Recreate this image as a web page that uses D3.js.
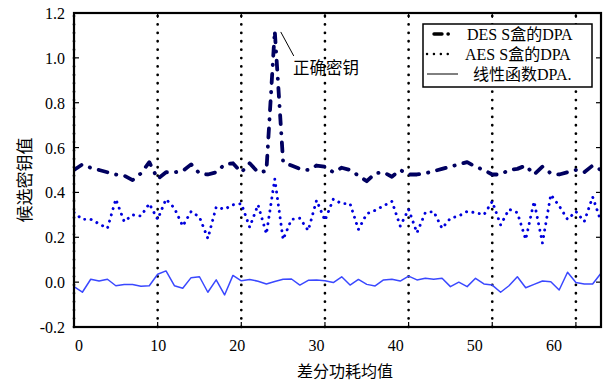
<!DOCTYPE html>
<html>
<head>
<meta charset="utf-8">
<script src="https://cdn.jsdelivr.net/npm/d3@7"></script>
<style>
  html, body { margin: 0; padding: 0; background: #fff; }
  svg { display: block; }
</style>
</head>
<body>
<div id="chart"></div>
<script>
/*------------------- Data --------------------*/
// 猜测密钥 0..63
const guesses = d3.range(0, 64);

const desDPA = [
    0.50, 0.525, 0.51, 0.50, 0.49, 0.48, 0.475, 0.455, 0.485, 0.535,
    0.46, 0.49, 0.49, 0.495, 0.525, 0.485, 0.48, 0.49, 0.525, 0.53,
    0.49, 0.53, 0.49, 0.495, 1.12, 0.535, 0.52, 0.505, 0.50, 0.52,
    0.515, 0.49, 0.51, 0.50, 0.475, 0.45, 0.485, 0.49, 0.47, 0.50,
    0.48, 0.48, 0.485, 0.495, 0.505, 0.515, 0.525, 0.535, 0.515, 0.50,
    0.48, 0.48, 0.50, 0.505, 0.52, 0.48, 0.515, 0.485, 0.48, 0.49,
    0.50, 0.49, 0.52, 0.50
];

const aesDPA = [
    0.31, 0.28, 0.28, 0.26, 0.24, 0.37, 0.27, 0.30, 0.295, 0.35,
    0.28, 0.37, 0.33, 0.25, 0.315, 0.29, 0.195, 0.335, 0.325, 0.345,
    0.35, 0.245, 0.345, 0.215, 0.46, 0.19, 0.28, 0.285, 0.23, 0.365,
    0.275, 0.37, 0.35, 0.35, 0.235, 0.305, 0.32, 0.34, 0.36, 0.25,
    0.325, 0.22, 0.31, 0.315, 0.24, 0.285, 0.295, 0.315, 0.31, 0.30,
    0.36, 0.255, 0.325, 0.31, 0.19, 0.36, 0.175, 0.39, 0.34, 0.28,
    0.315, 0.27, 0.38, 0.27
];

const linDPA = [
    -0.02, -0.045, 0.013, 0.005, 0.013, -0.016, -0.011, -0.011, -0.018, -0.016,
    0.035, 0.05, -0.016, -0.027, 0.02, 0.024, -0.045, 0.01, -0.057, 0.03,
    0.006, 0.012, 0.004, -0.008, 0.003, 0.013, 0.014, -0.013, 0.008, 0.01,
    0.006, -0.002, 0.024, -0.013, 0.012, -0.01, -0.017, 0.01, 0.013, 0.005,
    0.027, 0.01, 0.017, 0.013, 0.017, -0.02, 0.0, -0.02, 0.017, -0.008,
    -0.013, -0.045, -0.016, 0.024, -0.025, -0.01, 0.005, 0.002, -0.035, 0.044,
    -0.002, -0.008, -0.008, 0.04
];

const xTicks = [0, 10, 20, 30, 40, 50, 60];
const yTicks = [-0.2, 0.0, 0.2, 0.4, 0.6, 0.8, 1.0, 1.2];
const legendLabels = ["DES S盒的DPA", "AES S盒的DPA", "线性函数DPA."];

/*------------------- Layout --------------------*/
const width = 607, height = 382;
const plot = { left: 74, right: 601, top: 13, bottom: 327 };
const serif = "'Liberation Serif', 'Times New Roman', 'Noto Sans CJK SC', serif";
const cjk = "'Noto Sans CJK SC', sans-serif";

const svg = d3.select("#chart").append("svg")
    .attr("width", width)
    .attr("height", height);

const x = d3.scaleLinear().domain([0, 63]).range([plot.left, plot.right]);
const y = d3.scaleLinear().domain([-0.2, 1.2]).range([plot.bottom, plot.top]);
// tick labels in the source figure sit on a slightly tighter spacing
const xLabel = d3.scaleLinear().domain([0, 60]).range([79, 554]);

/*------------------- Grid --------------------*/
svg.append("g")
    .selectAll("line")
    .data(xTicks)
    .join("line")
    .attr("x1", d => x(d)).attr("x2", d => x(d))
    .attr("y1", plot.top + 3).attr("y2", plot.bottom)
    .attr("stroke", "#000")
    .attr("stroke-width", 2.7)
    .attr("stroke-linecap", "round")
    .attr("stroke-dasharray", "0.1,8.3");

/*------------------- Series --------------------*/
const series = [
    { name: legendLabels[2], values: linDPA, color: "#3a48ff", width: 1.5, dash: null, cap: "butt" },
    { name: legendLabels[1], values: aesDPA, color: "#0000dd", width: 2.9, dash: "0.1,6.4", cap: "round" },
    { name: legendLabels[0], values: desDPA, color: "#000060", width: 3.8, dash: "9,9,0.3,9", cap: "round" }
];

const line = d3.line()
    .x((d, i) => x(guesses[i]))
    .y(d => y(d));

svg.append("defs").append("clipPath").attr("id", "clip")
    .append("rect")
    .attr("x", plot.left).attr("y", plot.top)
    .attr("width", plot.right - plot.left).attr("height", plot.bottom - plot.top);

svg.append("g")
    .attr("clip-path", "url(#clip)")
    .selectAll("path")
    .data(series)
    .join("path")
    .attr("d", d => line(d.values))
    .attr("fill", "none")
    .attr("stroke", d => d.color)
    .attr("stroke-width", d => d.width)
    .attr("stroke-linecap", d => d.cap)
    .attr("stroke-linejoin", "round")
    .attr("stroke-dasharray", d => d.dash);

/*------------------- Frame & ticks --------------------*/
svg.append("rect")
    .attr("x", plot.left).attr("y", plot.top)
    .attr("width", plot.right - plot.left).attr("height", plot.bottom - plot.top)
    .attr("fill", "none")
    .attr("stroke", "#000")
    .attr("stroke-width", 2.2);

const tickLen = 5;
const ticks = svg.append("g").attr("stroke", "#000").attr("stroke-width", 1.2);

yTicks.forEach(v => {
    ticks.append("line").attr("x1", plot.left).attr("x2", plot.left + tickLen).attr("y1", y(v)).attr("y2", y(v));
    ticks.append("line").attr("x1", plot.right).attr("x2", plot.right - tickLen).attr("y1", y(v)).attr("y2", y(v));
});
xTicks.forEach(v => {
    ticks.append("line").attr("x1", x(v)).attr("x2", x(v)).attr("y1", plot.bottom).attr("y2", plot.bottom - tickLen);
    ticks.append("line").attr("x1", x(v)).attr("x2", x(v)).attr("y1", plot.top).attr("y2", plot.top + tickLen);
});

svg.append("g")
    .selectAll("text")
    .data(yTicks)
    .join("text")
    .attr("x", 65)
    .attr("y", d => y(d) + 6)
    .attr("text-anchor", "end")
    .attr("font-family", serif)
    .attr("font-size", 16)
    .text(d => d.toFixed(1));

svg.append("g")
    .selectAll("text")
    .data(xTicks)
    .join("text")
    .attr("x", d => xLabel(d))
    .attr("y", 351)
    .attr("text-anchor", "middle")
    .attr("font-family", serif)
    .attr("font-size", 16)
    .text(d => d);

/*------------------- Axis titles --------------------*/
svg.append("text")
    .attr("x", 345).attr("y", 377)
    .attr("text-anchor", "middle")
    .attr("font-family", cjk)
    .attr("font-size", 16)
    .text("差分功耗均值");

svg.append("text")
    .attr("transform", "translate(31,180) rotate(-90)")
    .attr("text-anchor", "middle")
    .attr("font-family", cjk)
    .attr("font-size", 17)
    .text("候选密钥值");

/*------------------- Annotation --------------------*/
svg.append("line")
    .attr("x1", x(24) + 6).attr("y1", y(desDPA[24]) + 1)
    .attr("x2", x(24) + 19).attr("y2", y(desDPA[24]) + 25)
    .attr("stroke", "#000").attr("stroke-width", 1);

svg.append("text")
    .attr("x", 293).attr("y", 74)
    .attr("font-family", cjk)
    .attr("font-size", 16.5)
    .text("正确密钥");

/*------------------- Legend --------------------*/
const legend = svg.append("g");
legend.append("rect")
    .attr("x", 423).attr("y", 24)
    .attr("width", 169).attr("height", 63)
    .attr("fill", "#fff")
    .attr("stroke", "#000")
    .attr("stroke-width", 1.5);

const legendItems = [
    { label: legendLabels[0], s: series[2], x1: 434, x2: 455, tx: 467 },
    { label: legendLabels[1], s: series[1], x1: 427, x2: 451, tx: 465 },
    { label: legendLabels[2], s: series[0], x1: 427, x2: 458, tx: 473 }
];

legendItems.forEach((d, i) => {
    const cy = 34 + i * 20;
    legend.append("line")
        .attr("x1", d.x1).attr("x2", d.x2).attr("y1", cy).attr("y2", cy)
        .attr("stroke", "#000")
        .attr("stroke-width", i === 0 ? 3.4 : (i === 1 ? 2.4 : 1))
        .attr("stroke-linecap", i === 2 ? "butt" : "round")
        .attr("stroke-dasharray", i === 0 ? "8,6,0.3,20" : (i === 1 ? "0.1,6.8" : null));
    legend.append("text")
        .attr("x", d.tx).attr("y", cy + 5.5)
        .attr("font-family", serif)
        .attr("font-size", 16)
        .text(d.label);
});
</script>
</body>
</html>
